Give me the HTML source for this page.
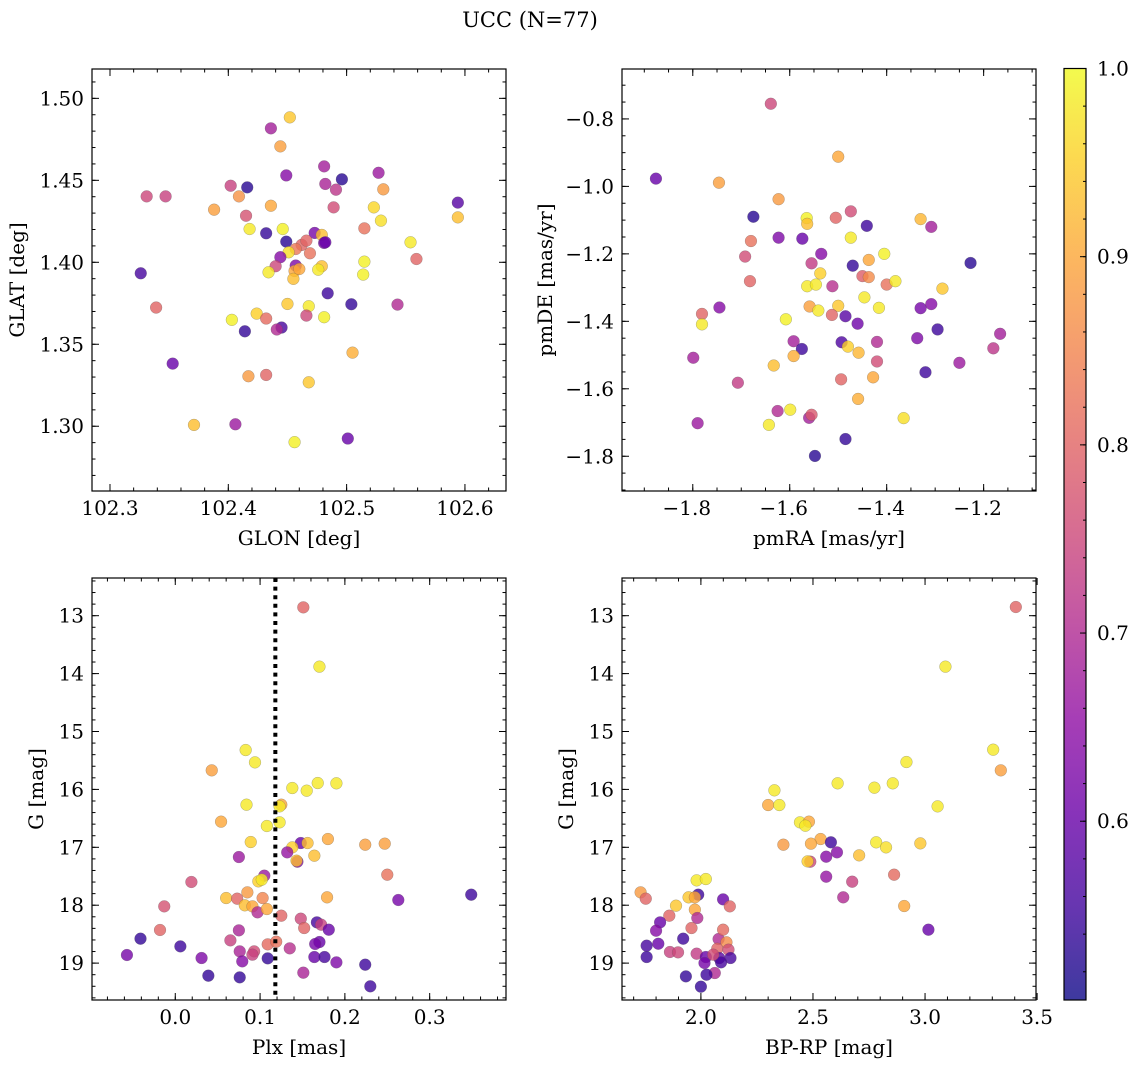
<!DOCTYPE html>
<html><head><meta charset="utf-8"><style>
html,body{margin:0;padding:0;background:#fff;}
svg{display:block;font-family:"DejaVu Serif","Liberation Serif",serif;}
</style></head><body>
<svg id="fig" width="1136" height="1068" viewBox="0 0 1136 1068" xmlns="http://www.w3.org/2000/svg">
<text x="530" y="27" font-size="21" text-anchor="middle">UCC (N=77)</text>
</svg>
<script>
// ---- Panel 1: GLON vs GLAT ----
const p1x=[102.452,102.436,102.444,102.481,102.449,102.527,102.496,102.482,102.491,102.531,102.402,102.416,102.331,102.347,102.409,102.594,102.388,102.436,102.489,102.523,102.594,102.415,102.418,102.446,102.529,102.432,102.473,102.479,102.449,102.462,102.481,102.515,102.554,102.457,102.451,102.469,102.444,102.559,102.515,102.326,102.440,102.457,102.479,102.434,102.456,102.476,102.514,102.455,102.484,102.504,102.543,102.339,102.450,102.468,102.424,102.466,102.481,102.432,102.403,102.445,102.441,102.414,102.505,102.353,102.417,102.432,102.468,102.371,102.406,102.456,102.501,102.466,102.482,102.460];
const p1y=[1.4884,1.4817,1.4707,1.4585,1.4530,1.4546,1.4506,1.4478,1.4443,1.4445,1.4467,1.4457,1.4402,1.4402,1.4402,1.4364,1.4321,1.4345,1.4335,1.4335,1.4274,1.4284,1.4203,1.4203,1.4254,1.4177,1.4179,1.4167,1.4126,1.4106,1.4118,1.4207,1.4122,1.4081,1.4061,1.4055,1.4031,1.4020,1.4004,1.3933,1.3976,1.3980,1.3976,1.3939,1.3947,1.3955,1.3925,1.3899,1.3811,1.3744,1.3742,1.3724,1.3746,1.3732,1.3687,1.3675,1.3665,1.3657,1.3649,1.3602,1.3590,1.3579,1.3449,1.3382,1.3305,1.3313,1.3268,1.3008,1.3012,1.2903,1.2925,1.4132,1.4122,1.3959];
const p1c=[0.94,0.68,0.89,0.68,0.64,0.67,0.53,0.69,0.72,0.88,0.74,0.53,0.75,0.74,0.87,0.58,0.89,0.90,0.76,0.96,0.93,0.77,0.98,0.99,0.97,0.54,0.62,0.93,0.53,0.80,0.62,0.82,0.98,0.83,0.97,0.82,0.64,0.80,0.99,0.56,0.75,0.63,0.93,0.98,0.90,0.98,0.99,0.93,0.55,0.54,0.70,0.80,0.94,0.98,0.95,0.75,0.99,0.81,0.99,0.56,0.70,0.54,0.91,0.60,0.88,0.80,0.94,0.93,0.67,0.99,0.60,0.80,0.60,0.90];
const p1XTicks=[102.3,102.4,102.5,102.6];
const p1YTicks=[1.30,1.35,1.40,1.45,1.50];
// ---- Panel 2: pmRA vs pmDE ----
const p2x=[-1.639,-1.500,-1.876,-1.746,-1.623,-1.675,-1.565,-1.564,-1.505,-1.474,-1.441,-1.330,-1.308,-1.680,-1.623,-1.574,-1.474,-1.692,-1.535,-1.555,-1.405,-1.227,-1.470,-1.437,-1.537,-1.450,-1.437,-1.682,-1.564,-1.546,-1.512,-1.400,-1.382,-1.285,-1.446,-1.781,-1.745,-1.559,-1.541,-1.500,-1.416,-1.330,-1.308,-1.781,-1.608,-1.513,-1.485,-1.460,-1.295,-1.166,-1.592,-1.575,-1.493,-1.480,-1.458,-1.420,-1.337,-1.180,-1.799,-1.592,-1.633,-1.420,-1.250,-1.320,-1.707,-1.494,-1.428,-1.459,-1.625,-1.599,-1.560,-1.555,-1.365,-1.790,-1.643,-1.485,-1.548];
const p2y=[-0.755,-0.912,-0.977,-0.989,-1.038,-1.090,-1.094,-1.111,-1.093,-1.074,-1.117,-1.097,-1.120,-1.162,-1.152,-1.155,-1.152,-1.208,-1.200,-1.228,-1.200,-1.227,-1.235,-1.218,-1.258,-1.266,-1.269,-1.281,-1.296,-1.291,-1.296,-1.291,-1.281,-1.303,-1.329,-1.378,-1.359,-1.356,-1.368,-1.354,-1.360,-1.361,-1.349,-1.409,-1.394,-1.381,-1.385,-1.407,-1.424,-1.437,-1.459,-1.482,-1.462,-1.475,-1.493,-1.461,-1.450,-1.480,-1.508,-1.503,-1.531,-1.519,-1.523,-1.551,-1.582,-1.572,-1.566,-1.630,-1.666,-1.662,-1.686,-1.677,-1.687,-1.702,-1.707,-1.749,-1.799];
const p2c=[0.75,0.90,0.60,0.89,0.88,0.53,0.99,0.93,0.80,0.76,0.55,0.92,0.68,0.82,0.63,0.60,0.98,0.76,0.64,0.73,0.99,0.53,0.54,0.90,0.95,0.79,0.86,0.80,0.98,0.98,0.71,0.82,0.98,0.94,0.98,0.80,0.64,0.89,0.98,0.94,0.98,0.62,0.64,0.98,0.99,0.80,0.58,0.61,0.55,0.68,0.68,0.55,0.57,0.95,0.92,0.70,0.63,0.72,0.68,0.91,0.93,0.76,0.67,0.55,0.73,0.80,0.90,0.91,0.70,0.98,0.68,0.78,0.97,0.67,0.98,0.54,0.53];
const p2XTicks=[-1.8,-1.6,-1.4,-1.2];
const p2YTicks=[-1.8,-1.6,-1.4,-1.2,-1.0,-0.8];
// ---- Panel 3: Plx vs G ----
const p3x=[0.151,0.170,0.083,0.094,0.043,0.138,0.155,0.168,0.190,0.084,0.125,0.123,0.054,0.108,0.123,0.089,0.148,0.156,0.180,0.138,0.132,0.224,0.247,0.075,0.164,0.144,0.143,0.250,0.019,0.105,0.098,0.102,0.263,0.349,0.060,0.073,0.085,0.103,0.179,-0.013,0.082,0.091,0.097,0.108,0.125,0.148,0.167,0.172,0.152,0.181,-0.018,0.075,-0.041,0.065,0.109,0.119,0.170,0.165,0.006,0.135,0.076,0.093,0.091,-0.057,0.031,0.109,0.164,0.176,0.079,0.190,0.224,0.039,0.076,0.151,0.230];
const p3y=[12.856,13.880,15.320,15.533,15.671,15.976,16.022,15.890,15.895,16.264,16.264,16.293,16.557,16.632,16.569,16.909,16.926,16.926,16.857,17.001,17.087,16.955,16.937,17.168,17.145,17.248,17.231,17.473,17.599,17.490,17.588,17.559,17.910,17.818,17.876,17.887,17.778,17.876,17.864,18.020,18.002,18.020,18.123,18.066,18.181,18.233,18.296,18.336,18.394,18.423,18.428,18.434,18.578,18.607,18.676,18.630,18.636,18.670,18.711,18.745,18.797,18.797,18.854,18.860,18.912,18.918,18.895,18.895,18.970,18.987,19.027,19.217,19.246,19.165,19.401];
const p3c=[0.80,0.98,0.98,0.98,0.89,0.98,0.98,0.98,0.98,0.98,0.90,0.98,0.90,0.98,0.98,0.95,0.60,0.93,0.90,0.95,0.66,0.89,0.89,0.67,0.93,0.64,0.93,0.82,0.76,0.67,0.95,0.98,0.62,0.55,0.93,0.80,0.88,0.85,0.90,0.77,0.93,0.90,0.70,0.90,0.80,0.75,0.56,0.74,0.80,0.60,0.80,0.69,0.54,0.74,0.81,0.82,0.60,0.62,0.55,0.71,0.69,0.76,0.74,0.62,0.63,0.54,0.60,0.56,0.64,0.63,0.55,0.54,0.54,0.69,0.55];
const p3XTicks=[0.0,0.1,0.2,0.3];
const plxLine=0.118;
// ---- Panel 4: BP-RP vs G ----
const p4x=[3.405,3.091,3.304,3.338,2.917,2.610,2.774,2.856,2.328,2.300,2.350,3.056,2.442,2.482,2.466,2.368,2.534,2.491,2.580,2.782,2.826,2.979,2.559,2.607,2.706,2.488,2.476,2.559,2.862,2.675,2.635,2.907,3.015,1.731,1.754,1.889,1.988,1.981,2.022,1.945,1.973,1.973,2.099,2.129,1.984,1.859,1.818,1.800,1.958,1.921,1.758,1.810,1.862,1.898,1.758,1.981,2.022,2.016,2.079,2.099,2.114,2.073,2.123,2.132,2.082,2.062,2.025,1.933,2.000,2.090,2.055];
const p4y=[12.850,13.880,15.314,15.671,15.527,15.895,15.970,15.895,16.016,16.270,16.270,16.293,16.569,16.557,16.627,16.955,16.857,16.937,16.914,16.914,17.001,16.932,17.162,17.087,17.139,17.248,17.243,17.507,17.473,17.594,17.864,18.014,18.423,17.778,17.887,18.008,17.818,17.571,17.548,17.864,17.864,18.077,17.899,18.020,18.221,18.181,18.296,18.440,18.394,18.578,18.699,18.665,18.808,18.814,18.895,18.837,18.895,18.998,18.584,18.423,18.641,18.751,18.768,18.912,18.912,19.171,19.200,19.229,19.407,18.987,18.854];
const p4c=[0.80,0.98,0.98,0.89,0.98,0.98,0.98,0.98,0.98,0.90,0.98,0.98,0.98,0.90,0.98,0.88,0.90,0.90,0.55,0.98,0.97,0.94,0.64,0.64,0.93,0.75,0.95,0.66,0.81,0.74,0.70,0.90,0.60,0.88,0.80,0.94,0.55,0.98,0.98,0.94,0.90,0.90,0.60,0.80,0.70,0.80,0.60,0.64,0.80,0.55,0.56,0.60,0.74,0.75,0.55,0.73,0.60,0.62,0.70,0.81,0.86,0.80,0.76,0.56,0.58,0.70,0.55,0.54,0.54,0.56,0.76];
const p4XTicks=[2.0,2.5,3.0,3.5];
const gTicks=[13,14,15,16,17,18,19];
// ---- Colorbar ----
const cbTicks=[0.6,0.7,0.8,0.9,1.0];
const cMin=0.505, cMax=1.0;

const NS='http://www.w3.org/2000/svg';
const svg=document.getElementById('fig');
const FS=20;
const plasma=[[13,8,135],[65,4,157],[106,0,168],[143,13,164],[177,42,144],[204,71,120],[225,100,98],[242,132,75],[252,166,54],[252,206,37],[240,249,33]];
function cmap(v){let t=(v-cMin)/(cMax-cMin);t=Math.max(0,Math.min(1,t));const s=t*10,i=Math.min(9,Math.floor(s)),f=s-i;const a=plasma[i],b=plasma[i+1];return 'rgb('+[0,1,2].map(k=>Math.round(a[k]+(b[k]-a[k])*f)).join(',')+')';}
function mk(tag,attrs,parent){const e=document.createElementNS(NS,tag);for(const k in attrs)e.setAttribute(k,attrs[k]);(parent||svg).appendChild(e);return e;}
function fmt(v,d){const s=Math.abs(v).toFixed(d);return (v<-1e-9?'\u2212':'')+s;}

function panel(o){
  const g=mk('g',{});
  
  
  const X=v=>o.x0+(v-o.xlim[0])/(o.xlim[1]-o.xlim[0])*o.w;
  const Y=v=>o.y0+(v-o.ylim[0])/(o.ylim[1]-o.ylim[0])*o.h;
  for(let i=0;i<o.xs.length;i++){
    const c=mk('circle',{cx:X(o.xs[i]),cy:Y(o.ys[i]),r:5.9,fill:cmap(o.cs[i]),'fill-opacity':0.8,stroke:'#555','stroke-opacity':0.45,'stroke-width':0.5},g);
    
    
  }
  if(o.vline!==undefined){
    const l=mk('line',{x1:X(o.vline),x2:X(o.vline),y1:o.y0,y2:o.y0+o.h,stroke:'#000','stroke-width':4,'stroke-dasharray':'4 4.6'},g);
    
    
  }
  const lo=Math.min(o.xlim[0],o.xlim[1]),hi=Math.max(o.xlim[0],o.xlim[1]);
  const ylo=Math.min(o.ylim[0],o.ylim[1]),yhi=Math.max(o.ylim[0],o.ylim[1]);
  for(let v=Math.ceil(lo/o.xmin-1e-6)*o.xmin;v<=hi+1e-9;v+=o.xmin){const px=X(v);
    mk('line',{x1:px,x2:px,y1:o.y0+o.h,y2:o.y0+o.h-3.5,stroke:'#000','stroke-width':1},g);
    mk('line',{x1:px,x2:px,y1:o.y0,y2:o.y0+3.5,stroke:'#000','stroke-width':1},g);}
  for(let v=Math.ceil(ylo/o.ymin-1e-6)*o.ymin;v<=yhi+1e-9;v+=o.ymin){const py=Y(v);
    mk('line',{x1:o.x0,x2:o.x0+3.5,y1:py,y2:py,stroke:'#000','stroke-width':1},g);
    mk('line',{x1:o.x0+o.w,x2:o.x0+o.w-3.5,y1:py,y2:py,stroke:'#000','stroke-width':1},g);}
  o.xt.forEach(v=>{if(v<lo-0.01||v>hi+0.01)return;const px=X(v);
    mk('line',{x1:px,x2:px,y1:o.y0+o.h,y2:o.y0+o.h-7,stroke:'#000','stroke-width':1},g);
    mk('line',{x1:px,x2:px,y1:o.y0,y2:o.y0+7,stroke:'#000','stroke-width':1},g);
    const t=mk('text',{x:px-(v<0?6:0),y:o.y0+o.h+24,'font-size':FS,'text-anchor':'middle'},g);t.textContent=fmt(v,o.xd);
    });
  o.yt.forEach(v=>{const py=Y(v);
    mk('line',{x1:o.x0,x2:o.x0+7,y1:py,y2:py,stroke:'#000','stroke-width':1},g);
    mk('line',{x1:o.x0+o.w,x2:o.x0+o.w-7,y1:py,y2:py,stroke:'#000','stroke-width':1},g);
    const t=mk('text',{x:o.x0-8,y:py+7,'font-size':FS,'text-anchor':'end'},g);t.textContent=fmt(v,o.yd);
    });
  const fr=mk('rect',{x:o.x0,y:o.y0,width:o.w,height:o.h,fill:'none',stroke:'#000','stroke-width':1.2},g);
  
  const xl=mk('text',{x:o.x0+o.w/2,y:o.y0+o.h+54,'font-size':FS,'text-anchor':'middle'},g);xl.textContent=o.xlabel;
  
  const yx=o.ylx,yy=o.y0+o.h/2;
  const yl=mk('text',{x:yx,y:yy,'font-size':FS,'text-anchor':'middle',transform:'rotate(-90 '+yx+' '+yy+')'},g);yl.textContent=o.ylabel;
  
}

panel({name:'glon-glat-panel',x0:92,y0:69,w:414,h:422,xlim:[102.2848,102.6347],ylim:[1.5179,1.2605],xs:p1x,ys:p1y,cs:p1c,xt:p1XTicks,yt:p1YTicks,xd:1,yd:2,xmin:0.02,ymin:0.01,xlabel:'GLON [deg]',ylabel:'GLAT [deg]',ylx:24});
panel({name:'proper-motion-panel',x0:622,y0:69,w:414,h:422,xlim:[-1.946,-1.092],ylim:[-0.652,-1.903],xs:p2x,ys:p2y,cs:p2c,xt:p2XTicks,yt:p2YTicks,xd:1,yd:1,xmin:0.05,ymin:0.05,xlabel:'pmRA [mas/yr]',ylabel:'pmDE [mas/yr]',ylx:552});
panel({name:'parallax-magnitude-panel',x0:92,y0:578,w:414,h:422,xlim:[-0.0982,0.3900],ylim:[12.349,19.637],xs:p3x,ys:p3y,cs:p3c,xt:p3XTicks,yt:gTicks,xd:1,yd:0,xmin:0.02,ymin:0.2,xlabel:'Plx [mas]',ylabel:'G [mag]',ylx:43,vline:plxLine});
panel({name:'color-magnitude-panel',x0:622,y0:578,w:414,h:422,xlim:[1.648,3.495],ylim:[12.349,19.637],xs:p4x,ys:p4y,cs:p4c,xt:p4XTicks,yt:gTicks,xd:1,yd:0,xmin:0.1,ymin:0.2,xlabel:'BP-RP [mag]',ylabel:'G [mag]',ylx:573});

(function(){
  const x0=1064,y0=68.5,w=22,h=931.5;
  const g=mk('g',{});
  
  
  const defs=mk('defs',{},g);
  const lg=mk('linearGradient',{id:'cbg',x1:0,y1:1,x2:0,y2:0},defs);
  for(let i=0;i<=20;i++){const v=cMin+(cMax-cMin)*i/20;mk('stop',{offset:i/20,'stop-color':cmap(v),'stop-opacity':0.8},lg);}
  const r=mk('rect',{x:x0,y:y0,width:w,height:h,fill:'url(#cbg)',stroke:'#000','stroke-width':1.2},g);
  
  const Yc=v=>y0+h-(v-cMin)/(cMax-cMin)*h;
  for(let v=0.52;v<=1.0001;v+=0.02){const py=Yc(v);mk('line',{x1:x0+w,x2:x0+w-3,y1:py,y2:py,stroke:'#000','stroke-width':1},g);}
  cbTicks.forEach(v=>{const py=Yc(v);
    mk('line',{x1:x0+w,x2:x0+w-6,y1:py,y2:py,stroke:'#000','stroke-width':1},g);
    const t=mk('text',{x:x0+w+11,y:py+7,'font-size':FS},g);t.textContent=v.toFixed(1);
    });
})();
</script>
</body></html>
